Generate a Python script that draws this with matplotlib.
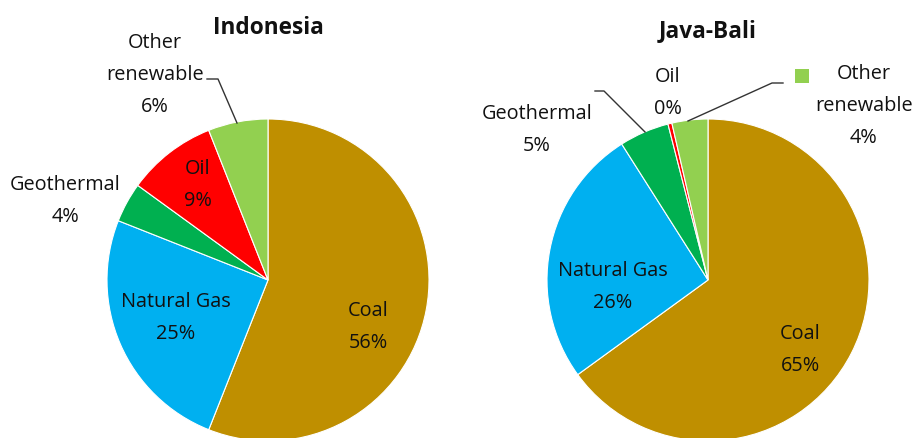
import matplotlib.pyplot as plt

# generation mix (%)
categories = ["Coal", "Natural Gas", "Geothermal", "Oil", "Other renewable"]
indonesia_share = [56, 25, 4, 9, 6]
java_bali_share = [65, 26, 5, 0.4, 3.6]
indonesia_labels = ["56%", "25%", "4%", "9%", "6%"]
java_bali_labels = ["65%", "26%", "5%", "0%", "4%"]

colors = ["#BF8F00", "#00B0F0", "#00B050", "#FF0000", "#92D050"]

W, H = 915, 439
plt.rcParams["font.family"] = ["Open Sans", "DejaVu Sans"]
TXT = "#111111"


def py(y):
    # pixel row -> data y
    return H - y


fig = plt.figure(figsize=(W / 100, H / 100), dpi=100)
ax = fig.add_axes([0, 0, 1, 1])

for share, cx in [(indonesia_share, 268), (java_bali_share, 708)]:
    ax.pie(share, colors=colors, startangle=90, counterclock=False,
           center=(cx, py(281)), radius=161,
           wedgeprops=dict(edgecolor="white", linewidth=0.8))

ax.set_xlim(0, W)
ax.set_ylim(0, H)
ax.set_aspect("equal")
ax.set_axis_off()

fs = 14.3
ls = 1.8

# Indonesia
ax.text(268, py(28), "Indonesia", ha="center", va="center", fontsize=16.3, fontweight="bold", color=TXT)
lab = dict(ha="center", va="center", fontsize=fs, color=TXT, linespacing=ls)
ax.text(368, py(327), f"{categories[0]}\n{indonesia_labels[0]}", **lab)
ax.text(176, py(318), f"{categories[1]}\n{indonesia_labels[1]}", **lab)
ax.text(65, py(201), f"{categories[2]}\n{indonesia_labels[2]}", **lab)
ax.text(198, py(185), f"{categories[3]}\n{indonesia_labels[3]}", **lab)
ax.text(155, py(75), "Other\nrenewable\n" + indonesia_labels[4], **lab)
ax.plot([207, 218, 237], [py(80), py(80), py(124)], color="#333333", lw=1)

# Java-Bali
ax.text(708, py(31), "Java-Bali", ha="center", va="center", fontsize=16.3, fontweight="bold", color=TXT)
ax.text(800, py(350), f"{categories[0]}\n{java_bali_labels[0]}", **lab)
ax.text(613, py(287), f"{categories[1]}\n{java_bali_labels[1]}", **lab)
ax.text(537, py(130), f"{categories[2]}\n{java_bali_labels[2]}", **lab)
ax.text(668, py(93), f"{categories[3]}\n{java_bali_labels[3]}", **lab)
ax.text(864, py(106), "Other\nrenewable\n" + java_bali_labels[4], **lab)
ax.plot([595, 604, 645], [py(92), py(92), py(133)], color="#333333", lw=1)
ax.plot([783, 772, 688], [py(84), py(84), py(122)], color="#333333", lw=1)
ax.scatter([802], [py(77)], marker="s", s=90, color=colors[4], linewidths=0)

fig.savefig("out.png", dpi=100)
